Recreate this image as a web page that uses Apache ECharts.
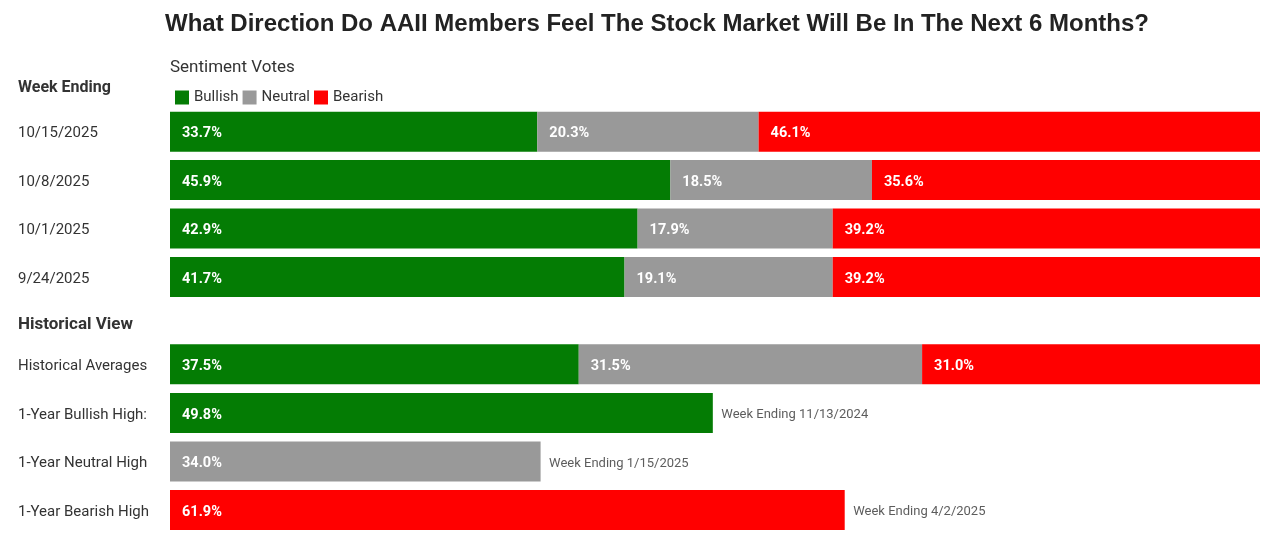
<!DOCTYPE html>
<html>
<head>
<meta charset="utf-8">
<script src="https://cdn.jsdelivr.net/npm/echarts@6/dist/echarts.min.js"></script>
<style>
html,body{margin:0;padding:0;background:#fff;}
#chart{width:1280px;height:542px;}
</style>
</head>
<body>
<div id="chart"></div>
<script>
// ---- data ----
var weeks = ['10/15/2025', '10/8/2025', '10/1/2025', '9/24/2025'];
var weekBullish = [33.7, 45.9, 42.9, 41.7];
var weekNeutral = [20.3, 18.5, 17.9, 19.1];
var weekBearish = [46.1, 35.6, 39.2, 39.2];

var histCats = ['Historical Averages', '1-Year Bullish High:', '1-Year Neutral High', '1-Year Bearish High'];
var histBullish = [37.5, 49.8, 0, 0];
var histNeutral = [31.5, 0, 34.0, 0];
var histBearish = [31.0, 0, 0, 61.9];
var highValues = [null, 49.8, 34.0, 61.9];
var highNotes = ['', 'Week Ending 11/13/2024', 'Week Ending 1/15/2025', 'Week Ending 4/2/2025'];

var seriesNames = ['Bullish', 'Neutral', 'Bearish'];
var colors = ['#047c04', '#999999', '#ff0000'];
var FONT = 'Roboto, "Noto Sans", sans-serif';

var chart = echarts.init(document.getElementById('chart'));

var barLabel = {
  show: true,
  position: 'insideLeft',
  distance: 12,
  offset: [0, 2],
  color: '#fff',
  fontFamily: FONT,
  fontWeight: 'bold',
  fontSize: 14.5,
  formatter: function (p) { return p.value ? p.value.toFixed(1) + '%' : ''; }
};

function barSeries(name, idx, data, axisIdx, stack) {
  return {
    name: name,
    type: 'bar',
    stack: stack,
    xAxisIndex: axisIdx,
    yAxisIndex: axisIdx,
    barWidth: 40,
    data: data,
    itemStyle: { color: colors[idx] },
    label: barLabel,
    emphasis: { disabled: true },
    animation: false
  };
}

var yAxisCommon = {
  type: 'category',
  inverse: true,
  axisLine: { show: false },
  axisTick: { show: false },
  splitLine: { show: false },
  axisLabel: {
    align: 'left',
    margin: 152,
    color: '#333',
    fontFamily: FONT,
    fontSize: 15,
    formatter: function (v) { return '{a|' + v + '}'; },
    rich: { a: { color: '#333', fontFamily: FONT, fontSize: 15, padding: [4, 0, 0, 0] } }
  }
};
var xAxisCommon = {
  type: 'value',
  min: 0,
  max: 100,
  show: false
};

var option = {
  backgroundColor: '#fff',
  animation: false,
  textStyle: { fontFamily: FONT },
  grid: [
    { left: 170, right: 20, top: 107.5, height: 193.6 },
    { left: 170, right: 20, top: 340, height: 194.4 }
  ],
  xAxis: [
    Object.assign({ gridIndex: 0 }, xAxisCommon),
    Object.assign({ gridIndex: 1 }, xAxisCommon)
  ],
  yAxis: [
    Object.assign({ gridIndex: 0, data: weeks }, yAxisCommon),
    Object.assign({ gridIndex: 1, data: histCats }, yAxisCommon)
  ],
  legend: {
    left: 170,
    top: 85,
    icon: 'rect',
    itemWidth: 14,
    itemHeight: 14,
    itemGap: 4,
    selectedMode: false,
    data: seriesNames,
    textStyle: { color: '#333', fontFamily: FONT, fontSize: 15, padding: [2, 0, 0, 0] }
  },
  graphic: [
    {
      type: 'text', x: 657, y: 12,
      style: {
        text: 'What Direction Do AAII Members Feel The Stock Market Will Be In The Next 6 Months?',
        fill: '#222', font: 'bold 24px "Liberation Sans", Arial, sans-serif', align: 'center'
      }
    },
    {
      type: 'text', left: 170, top: 59,
      style: { text: 'Sentiment Votes', fill: '#333', font: '17px ' + FONT }
    },
    {
      type: 'text', left: 18, top: 80,
      style: { text: 'Week Ending', fill: '#333', font: 'bold 16px ' + FONT }
    },
    {
      type: 'text', left: 18, top: 316,
      style: { text: 'Historical View', fill: '#333', font: 'bold 17px ' + FONT }
    }
  ],
  series: [
    barSeries('Bullish', 0, weekBullish, 0, 'w'),
    barSeries('Neutral', 1, weekNeutral, 0, 'w'),
    barSeries('Bearish', 2, weekBearish, 0, 'w'),
    barSeries('Bullish', 0, histBullish, 1, 'h'),
    barSeries('Neutral', 1, histNeutral, 1, 'h'),
    barSeries('Bearish', 2, histBearish, 1, 'h'),
    {
      name: 'notes',
      type: 'scatter',
      xAxisIndex: 1,
      yAxisIndex: 1,
      symbolSize: 1,
      itemStyle: { color: 'rgba(0,0,0,0)' },
      data: highValues.map(function (v, i) { return v == null ? null : [v, histCats[i]]; }),
      label: {
        show: true,
        position: 'right',
        distance: 8,
        offset: [0, 2],
        color: '#333',
        fontFamily: FONT,
        fontSize: 13,
        formatter: function (p) { return highNotes[p.dataIndex]; }
      },
      emphasis: { disabled: true },
      silent: true,
      animation: false
    }
  ]
};
chart.setOption(option);
</script>
</body>
</html>
